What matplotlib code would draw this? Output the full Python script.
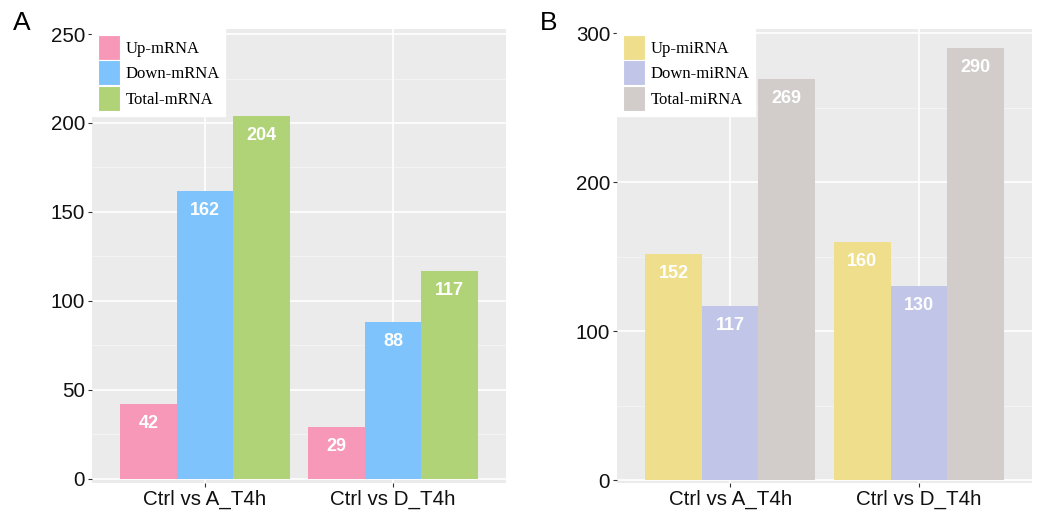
import matplotlib.pyplot as plt
import numpy as np

# Data
groups = ['Ctrl vs A_T4h', 'Ctrl vs D_T4h']

mrna_labels = ['Up-mRNA', 'Down-mRNA', 'Total-mRNA']
mrna_up = [42, 29]
mrna_down = [162, 88]
mrna_total = [204, 117]
mrna_colors = ['#F898B8', '#7EC3FB', '#B0D377']

mirna_labels = ['Up-miRNA', 'Down-miRNA', 'Total-miRNA']
mirna_up = [152, 160]
mirna_down = [117, 130]
mirna_total = [269, 290]
mirna_colors = ['#EFDF8C', '#C1C6E8', '#D2CDCA']

plt.rcParams['font.family'] = ['Liberation Sans', 'DejaVu Sans']

fig = plt.figure(figsize=(10.4, 5.12), dpi=100)
axA = fig.add_axes([0.0885, 0.0566, 0.398, 0.8867])
axB = fig.add_axes([0.5933, 0.0566, 0.399, 0.8867])


def draw_panel(ax, series, labels, colors, ymax, ylim, minor):
    x = np.arange(1, len(groups) + 1)
    w = 0.3
    step = 50 if ymax == 250 else 100
    ax.set_facecolor('#EBEBEB')
    ax.set_axisbelow(True)
    for m in minor:
        ax.axhline(m, color='#F5F5F5', lw=0.6, zorder=0)
    for t in np.arange(0, ymax + 1, step):
        ax.axhline(t, color='white', lw=1.2, zorder=0)
    for xc in x:
        ax.axvline(xc, color='white', lw=1.2, zorder=0)
    for i, (vals, lab, col) in enumerate(zip(series, labels, colors)):
        pos = x + (i - 1) * w
        ax.bar(pos, vals, width=w, color=col, label=lab, zorder=2)
        for p, v in zip(pos, vals):
            ax.annotate(str(v), (p, v), xytext=(0, -14), textcoords='offset points',
                        ha='center', va='center', color='white',
                        fontsize=13, fontweight='bold', zorder=3)
    ax.set_xlim(0.4, 2.6)
    ax.set_ylim(*ylim)
    ax.set_xticks(x)
    ax.set_xticklabels(groups)
    ax.set_yticks(np.arange(0, ymax + 1, step))
    ax.tick_params(axis='both', labelsize=14.8, length=3, color='#333333',
                   labelcolor='#111111', width=0.8, pad=2)
    for s in ax.spines.values():
        s.set_visible(False)
    leg = ax.legend(loc='upper left', bbox_to_anchor=(0, 1), borderaxespad=0,
                    frameon=True, fancybox=False, edgecolor='white',
                    prop={'family': 'Liberation Serif', 'size': 12},
                    handlelength=1.3, handleheight=1.9, handletextpad=0.35,
                    labelspacing=0.05, borderpad=0.35)
    leg.get_frame().set_facecolor('white')
    leg.get_frame().set_alpha(1)
    for h in leg.legend_handles:
        h.set_edgecolor('white')
        h.set_linewidth(0.8)


draw_panel(axA, [mrna_up, mrna_down, mrna_total], mrna_labels, mrna_colors,
           250, (-2.3, 252.8), [25, 75, 125, 175, 225])
draw_panel(axB, [mirna_up, mirna_down, mirna_total], mirna_labels, mirna_colors,
           300, (-2.0, 302.7), [50, 150, 250])

fig.text(0.012, 0.955, 'A', fontsize=19, va='center', ha='left')
fig.text(0.519, 0.955, 'B', fontsize=19, va='center', ha='left')

plt.savefig('out.png', dpi=100)
